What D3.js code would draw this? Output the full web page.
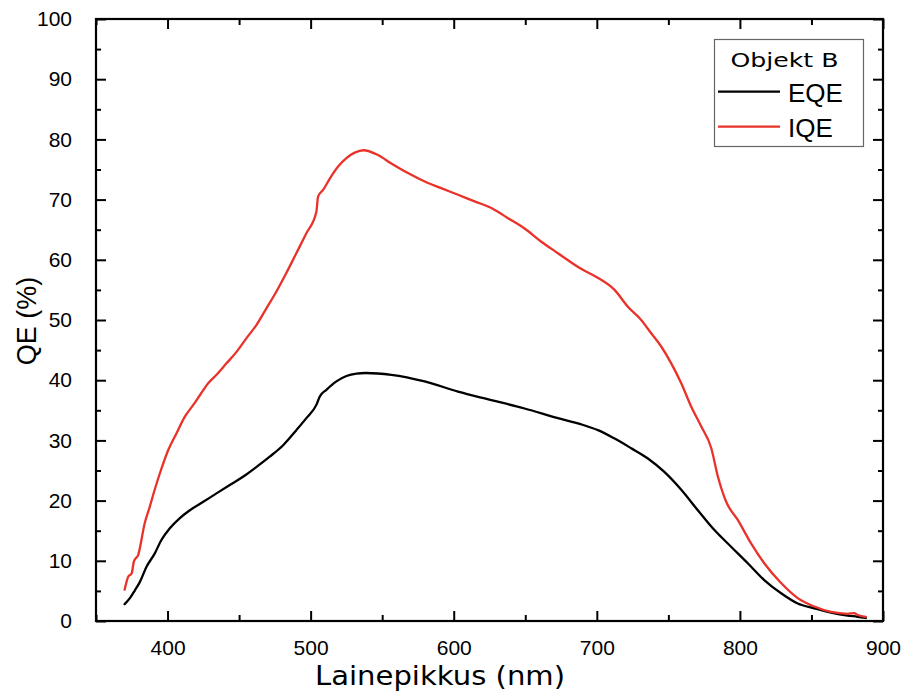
<!DOCTYPE html>
<html>
<head>
<meta charset="utf-8">
<script src="https://cdn.jsdelivr.net/npm/d3@7"></script>
<style>
  html, body { margin: 0; padding: 0; background: #fff; }
  svg { display: block; }
</style>
</head>
<body>
<svg id="chart" width="905" height="698"></svg>
<script>
// Measured quantum efficiency spectra (wavelength in nm, QE in %)
const eqeWavelength = [370, 373.7, 377.2, 380.7, 385.3, 391, 395.8, 401.6, 408.6, 415.6, 425, 434.2, 443.5, 453, 462.2, 471.4, 480.8, 490, 497, 504, 506.4, 511, 518, 525, 532, 538.5, 556.4, 579.7, 603, 626.3, 649.5, 672.8, 690, 700.8, 712.4, 724, 735.7, 747, 759, 770.6, 782.2, 794, 805.5, 817, 828.8, 840.4, 852, 863.7, 875.3, 882.3, 888];
const eqeValues = [2.8, 3.8, 5.1, 6.5, 9.0, 11.2, 13.5, 15.4, 17.1, 18.4, 19.8, 21.2, 22.6, 24.0, 25.6, 27.3, 29.2, 31.7, 33.7, 35.9, 37.3, 38.4, 39.8, 40.7, 41.1, 41.2, 40.9, 39.8, 38.1, 36.7, 35.3, 33.7, 32.6, 31.7, 30.3, 28.7, 27.0, 24.8, 21.8, 18.4, 15.1, 12.3, 9.6, 6.8, 4.6, 2.9, 2.1, 1.4, 0.9, 0.7, 0.5];

const iqeWavelength = [370, 372.6, 374.9, 376.5, 379.5, 384, 387.6, 391, 394.6, 400.5, 406.3, 412, 418, 422.6, 428.4, 434.2, 441.2, 448.2, 455.2, 462.2, 469, 476, 483, 490, 497, 504, 505.2, 508.7, 513.4, 519.2, 525, 530.8, 537, 547, 556.4, 568, 579.7, 591.3, 603, 614.6, 626.3, 638, 649.5, 661.2, 672.8, 689, 700, 712.4, 721.7, 731, 738, 745, 752, 759, 766, 773, 780, 784.6, 790.4, 798.5, 807.8, 817, 828.8, 840.4, 852, 863.7, 875.3, 879.9, 882.3, 888];
const iqeValues = [5.2, 7.4, 7.9, 9.9, 11.0, 16.2, 19.0, 21.8, 24.5, 28.4, 31.2, 33.9, 35.9, 37.5, 39.5, 40.9, 42.8, 44.7, 47.0, 49.2, 51.9, 54.7, 57.8, 61.1, 64.4, 68.0, 70.5, 71.6, 73.5, 75.5, 76.9, 77.8, 78.2, 77.4, 76.0, 74.4, 73.0, 71.9, 70.8, 69.7, 68.6, 66.9, 65.2, 63.0, 61.1, 58.5, 57.1, 55.0, 52.2, 50.0, 47.8, 45.6, 42.8, 39.5, 35.6, 32.3, 28.7, 24.0, 19.8, 16.8, 12.9, 9.6, 6.3, 3.8, 2.4, 1.5, 1.2, 1.3, 1.0, 0.7];

const xDomain = [350, 900];
const yDomain = [0, 100];
const xMajorTicks = [400, 500, 600, 700, 800, 900];
const xMinorTicks = [350, 450, 550, 650, 750, 850];
const yMajorTicks = [0, 10, 20, 30, 40, 50, 60, 70, 80, 90, 100];
const yMinorTicks = [5, 15, 25, 35, 45, 55, 65, 75, 85, 95];

const seriesNames = ["EQE", "IQE"];
const seriesColors = ["#000000", "#e8322a"];
const legendTitle = "Objekt B";
const xTitle = "Lainepikkus (nm)";
const yTitle = "QE (%)";

const svg = d3.select("#chart");
const plotLeft = 96, plotRight = 883, plotTop = 19, plotBottom = 621;

const x = d3.scaleLinear().domain(xDomain).range([plotLeft, plotRight]);
const y = d3.scaleLinear().domain(yDomain).range([plotBottom, plotTop]);

const tickFont = "'Liberation Sans', Arial, Helvetica, sans-serif";

// Data lines
const series = [
  { name: seriesNames[0], color: seriesColors[0], pts: eqeWavelength.map((w, i) => [w, eqeValues[i]]) },
  { name: seriesNames[1], color: seriesColors[1], pts: iqeWavelength.map((w, i) => [w, iqeValues[i]]) }
];
const line = d3.line().x(d => x(d[0])).y(d => y(d[1])).curve(d3.curveMonotoneX);

const plot = svg.append("g");
series.forEach(s => {
  plot.append("path")
    .datum(s.pts)
    .attr("fill", "none")
    .attr("stroke", s.color)
    .attr("stroke-width", 2.3)
    .attr("stroke-linejoin", "round")
    .attr("stroke-linecap", "round")
    .attr("d", line);
});

// Axes: ticks point inward on all four sides
function styleAxis(g) {
  g.select(".domain").remove();
  g.selectAll(".tick line").attr("stroke", "#000").attr("stroke-width", 2);
  g.selectAll(".tick text").attr("font-family", tickFont).attr("font-size", 21).attr("fill", "#000");
}

// bottom
svg.append("g").attr("transform", `translate(0,${plotBottom})`)
  .call(d3.axisBottom(x).tickValues(xMajorTicks).tickSize(-10).tickPadding(19).tickFormat(d3.format("d")))
  .call(styleAxis);
svg.append("g").attr("transform", `translate(0,${plotBottom})`)
  .call(d3.axisBottom(x).tickValues(xMinorTicks).tickSize(-6).tickFormat(""))
  .call(styleAxis);
// top
svg.append("g").attr("transform", `translate(0,${plotTop})`)
  .call(d3.axisTop(x).tickValues(xMajorTicks).tickSize(-10).tickFormat(""))
  .call(styleAxis);
svg.append("g").attr("transform", `translate(0,${plotTop})`)
  .call(d3.axisTop(x).tickValues(xMinorTicks).tickSize(-6).tickFormat(""))
  .call(styleAxis);
// left
svg.append("g").attr("transform", `translate(${plotLeft},0)`)
  .call(d3.axisLeft(y).tickValues(yMajorTicks).tickSize(-10).tickPadding(24).tickFormat(d3.format("d")))
  .call(styleAxis);
svg.append("g").attr("transform", `translate(${plotLeft},0)`)
  .call(d3.axisLeft(y).tickValues(yMinorTicks).tickSize(-5).tickFormat(""))
  .call(styleAxis);
// right
svg.append("g").attr("transform", `translate(${plotRight},0)`)
  .call(d3.axisRight(y).tickValues(yMajorTicks).tickSize(-10).tickFormat(""))
  .call(styleAxis);
svg.append("g").attr("transform", `translate(${plotRight},0)`)
  .call(d3.axisRight(y).tickValues(yMinorTicks).tickSize(-5).tickFormat(""))
  .call(styleAxis);

// Frame
svg.append("rect")
  .attr("x", plotLeft).attr("y", plotTop)
  .attr("width", plotRight - plotLeft).attr("height", plotBottom - plotTop)
  .attr("fill", "none").attr("stroke", "#000").attr("stroke-width", 2.2);

// Axis titles
svg.append("text")
  .attr("x", 440).attr("y", 685)
  .attr("text-anchor", "middle")
  .attr("font-family", "'DejaVu Sans', Verdana, sans-serif")
  .attr("font-size", 26)
  .attr("textLength", 250).attr("lengthAdjust", "spacingAndGlyphs")
  .text(xTitle);

svg.append("text")
  .attr("transform", "translate(36,321) rotate(-90)")
  .attr("text-anchor", "middle")
  .attr("font-family", tickFont)
  .attr("font-size", 27)
  .text(yTitle);

// Legend
const legend = svg.append("g");
legend.append("rect")
  .attr("x", 714.5).attr("y", 39.5).attr("width", 149).attr("height", 107)
  .attr("fill", "#fff").attr("stroke", "#666").attr("stroke-width", 1.2);
legend.append("text")
  .attr("x", 784.5).attr("y", 66.5)
  .attr("text-anchor", "middle")
  .attr("font-family", "'DejaVu Sans', Verdana, sans-serif")
  .attr("font-size", 20)
  .attr("textLength", 108).attr("lengthAdjust", "spacingAndGlyphs")
  .text(legendTitle);
const legendRows = [91.7, 126.7];
series.forEach((s, i) => {
  legend.append("line")
    .attr("x1", 718).attr("x2", 780)
    .attr("y1", legendRows[i]).attr("y2", legendRows[i])
    .attr("stroke", s.color).attr("stroke-width", 2.3);
  legend.append("text")
    .attr("x", 788).attr("y", legendRows[i] + 10.5)
    .attr("font-family", tickFont)
    .attr("font-size", 26)
    .text(s.name);
});
</script>
</body>
</html>
